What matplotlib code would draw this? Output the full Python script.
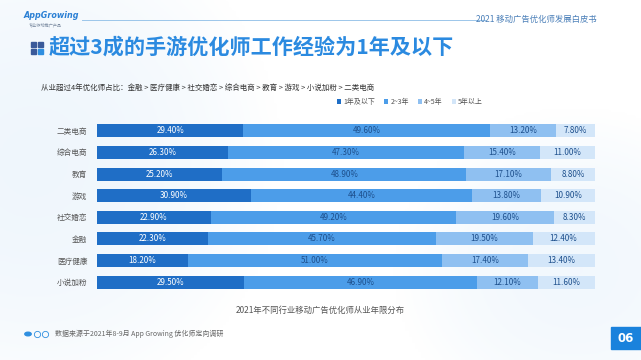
import matplotlib
matplotlib.use("Agg")
import matplotlib.pyplot as plt
import numpy as np
from matplotlib.patches import Rectangle, Circle

plt.rcParams['font.family'] = ['Noto Sans CJK SC', 'DejaVu Sans']

categories = ["二类电商", "综合电商", "教育", "游戏", "社交婚恋", "金融", "医疗健康", "小说加粉"]
series_names = ["1年及以下", "2~3年", "4~5年", "5年以上"]
s1 = [29.4, 26.3, 25.2, 30.9, 22.9, 22.3, 18.2, 29.5]
s2 = [49.6, 47.3, 48.9, 44.4, 49.2, 45.7, 51.0, 46.9]
s3 = [13.2, 15.4, 17.1, 13.8, 19.6, 19.5, 17.4, 12.1]
s4 = [7.8, 11.0, 8.8, 10.9, 8.3, 12.4, 13.4, 11.6]
colors = ["#1f6ec6", "#4c9de9", "#8fc0f1", "#d3e6f9"]
text_colors = ["#ffffff", "#1d4f8c", "#1d4f8c", "#1d4f8c"]

W, H = 641, 360
fig = plt.figure(figsize=(W/100, H/100), dpi=100)

# background gradient
bg = fig.add_axes([0, 0, 1, 1], zorder=-10)
xx, yy = np.meshgrid(np.linspace(0, 1, 200), np.linspace(0, 1, 120))
val = np.clip(1 - ((xx - 0.05)**2 / 0.15 + (yy - 0.45)**2 / 0.5), 0, 1) * 0.6 \
    + np.clip(1 - ((xx - 0.9)**2 / 0.08 + (yy - 0.75)**2 / 0.2), 0, 1) * 0.5
val = np.clip(val, 0, 1)
base = np.array([1.0, 1.0, 1.0])
tint = np.array([0.90, 0.945, 0.985])
img = base[None, None, :] * (1 - val[..., None]) + tint[None, None, :] * val[..., None]
bg.imshow(img, extent=[0, 1, 0, 1], aspect='auto', origin='upper')
bg.set_xlim(0, 1); bg.set_ylim(0, 1)
bg.axis('off')

def fx(px): return px / W
def fy(py): return 1 - py / H

# header
fig.text(fx(24), fy(16), "AppGrowing", fontsize=5.8, color="#2a7fd4", style='italic', fontweight='bold',
         va='center', ha='left', family=['DejaVu Sans'])
fig.text(fx(29), fy(25), "专业移动推广产品", fontsize=3, color="#7a8aa0", va='center', ha='left')
fig.add_artist(plt.Line2D([fx(82), fx(485)], [fy(20), fy(20)], color="#9cc6ea", lw=0.7))
fig.text(fx(597), fy(19), "2021 移动广告优化师发展白皮书", fontsize=6, color="#4a7fb8", va='center', ha='right')

# title icon
for (ix, iy, c) in [(31, 42, "#3a5a9a"), (38, 42, "#3a5a9a"), (31, 49, "#3a5a9a"), (38, 49, "#2f8fe0")]:
    fig.add_artist(Rectangle((fx(ix), fy(iy + 5)), 5/W, 5/H, color=c, transform=fig.transFigure))
fig.text(fx(49), fy(47), "超过3成的手游优化师工作经验为1年及以下", fontsize=15.2, color="#2b8ae0",
         fontweight='bold', va='center', ha='left')
fig.text(fx(41), fy(88), "从业超过4年优化师占比：金融 > 医疗健康 > 社交婚恋 > 综合电商 > 教育 > 游戏 > 小说加粉 > 二类电商",
         fontsize=5.4, color="#333333", va='center', ha='left')

# bars
ax = fig.add_axes([fx(97), fy(293), (595 - 97) / W, (293 - 120) / H])
ax.set_facecolor('none')
y = np.arange(len(categories))
left = np.zeros(len(categories))
data = [s1, s2, s3, s4]
for vals, col, tc, name in zip(data, colors, text_colors, series_names):
    vals = np.array(vals)
    ax.barh(y, vals, left=left, height=0.6, color=col, label=name)
    for yi, (l, v) in enumerate(zip(left, vals)):
        ax.text(l + v / 2, yi, f"{v:.2f}%", ha='center', va='center', fontsize=5.8, color=tc)
    left = left + vals
ax.set_xlim(0, 100)
ax.set_ylim(len(categories) - 0.5, -0.5)
ax.set_yticks(y)
ax.set_yticklabels(categories, fontsize=5.5, color="#555555")
ax.tick_params(axis='y', length=0, pad=7)
ax.set_xticks([])
for s in ax.spines.values():
    s.set_visible(False)

leg = fig.legend(loc='center', bbox_to_anchor=(fx(410), fy(102)), ncol=4, frameon=False,
                 fontsize=5, handlelength=0.6, handleheight=0.6, columnspacing=1.3, handletextpad=0.3,
                 labelcolor="#555555")

fig.text(fx(320), fy(310), "2021年不同行业移动广告优化师从业年限分布", fontsize=6, color="#555555", ha='center', va='center')

# footer
fig.add_artist(Circle((fx(28), fy(334)), 3.2/W, color="#2f8fe0", transform=fig.transFigure))
for cx in (36.5, 45):
    fig.add_artist(plt.Line2D([fx(cx)], [fy(334)], marker='o', markersize=4.5, markerfacecolor='none',
                              markeredgecolor="#2f8fe0", markeredgewidth=0.6, transform=fig.transFigure))
fig.text(fx(55), fy(334), "数据来源于2021年8-9月 App Growing 优化师定向调研", fontsize=5, color="#666666", ha='left', va='center')

fig.add_artist(Rectangle((fx(611), fy(349)), 30/W, 22/H, color="#1a82dc", transform=fig.transFigure))
fig.text(fx(626), fy(338), "06", fontsize=8.5, color="white", fontweight='bold', ha='center', va='center', family=['DejaVu Sans'])

fig.savefig("out.png", dpi=100)
